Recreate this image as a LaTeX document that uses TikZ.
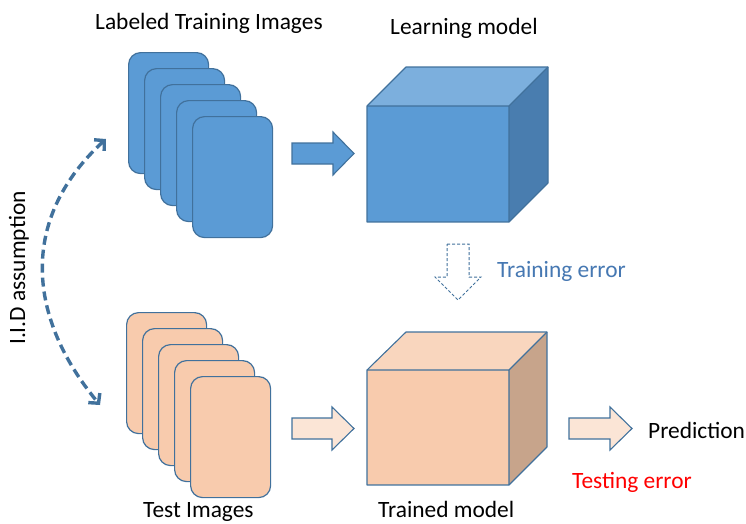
\documentclass[tikz,border=0pt]{standalone}
\usepackage{fontspec}
\setmainfont{Carlito}
\usetikzlibrary{arrows.meta}

\definecolor{edgeblue}{HTML}{41719C}
\definecolor{fillblue}{HTML}{5B9BD5}
\definecolor{topblue}{HTML}{7CAFDD}
\definecolor{sideblue}{HTML}{497DAF}
\definecolor{fillpeach}{HTML}{F8CBAD}
\definecolor{toppeach}{HTML}{F9D6BE}
\definecolor{sidepeach}{HTML}{C7A48B}
\definecolor{lightpeach}{HTML}{FBE5D6}
\definecolor{errblue}{HTML}{4678B2}

\tikzset{
  card/.style={draw=edgeblue, line width=1.2pt, rounded corners=12pt,
    minimum width=80pt, minimum height=121pt, inner sep=0pt, anchor=north west},
  label/.style={inner sep=0pt, anchor=base west, font=\fontsize{23.4}{28}\selectfont},
  blockarrow/.style={draw=edgeblue, line width=1.1pt, line join=miter},
  cubeedge/.style={draw=edgeblue, line width=1.1pt, line join=round},
  iid/.style={edgeblue, line width=3.4pt, dash pattern=on 9pt off 5pt,
    {Straight Barb[length=7pt,width=15pt]}-{Straight Barb[length=7pt,width=15pt]}}
}

\begin{document}
\begin{tikzpicture}[x=1pt,y=-1pt]
\useasboundingbox (0,0) rectangle (746,523);

% stacks of image cards
\foreach \i in {0,...,4}{
  \node[card, fill=fillblue] (tr\i) at ({128+16*\i},{52+16*\i}) {};
}
\foreach \i in {0,...,4}{
  \node[card, fill=fillpeach] (te\i) at ({126+16*\i},{312+16*\i}) {};
}

% learning model cube
\coordinate (lmA) at (367,106);
\coordinate (lmB) at (509,222);
\fill[topblue] (367,106) -- (406,67) -- (548,67) -- (509,106) -- cycle;
\fill[sideblue] (509,106) -- (548,67) -- (548,183) -- (509,222) -- cycle;
\fill[fillblue] (lmA) rectangle (lmB);
\draw[cubeedge] (367,106) -- (406,67) -- (548,67) -- (548,183) -- (509,222) -- (367,222) -- cycle;
\draw[cubeedge] (367,106) -- (509,106) -- (548,67) (509,106) -- (509,222);

% trained model cube
\coordinate (tmA) at (367,370);
\coordinate (tmB) at (509,485);
\fill[toppeach] (367,370) -- (406,332) -- (547,332) -- (509,370) -- cycle;
\fill[sidepeach] (509,370) -- (547,332) -- (547,447) -- (509,485) -- cycle;
\fill[fillpeach] (tmA) rectangle (tmB);
\draw[cubeedge] (367,370) -- (406,332) -- (547,332) -- (547,447) -- (509,485) -- (367,485) -- cycle;
\draw[cubeedge] (367,370) -- (509,370) -- (547,332) (509,370) -- (509,485);

% block arrows
\draw[blockarrow, fill=fillblue]
  (292,143) -- (333,143) -- (333,132) -- (354,153.5) -- (333,175) -- (333,164) -- (292,164) -- cycle;
\draw[blockarrow, fill=lightpeach]
  (292,418) -- (332,418) -- (332,407) -- (354,428.5) -- (332,450) -- (332,439) -- (292,439) -- cycle;
\draw[blockarrow, fill=lightpeach]
  (569,418) -- (610,418) -- (610,407) -- (632,428.5) -- (610,450) -- (610,439) -- (569,439) -- cycle;
\draw[draw=edgeblue, line width=1pt, dash pattern=on 3pt off 2pt, fill=white]
  (447,244) -- (469,244) -- (469,277) -- (481,277) -- (458,300) -- (435,277) -- (447,277) -- cycle;

% I.I.D assumption link
\coordinate (iidTop) at (106,139);
\coordinate (iidBot) at (100,405);
\draw[iid] (iidTop) .. controls (23,215) and (23,312) .. (iidBot);

% labels
\node[label] (lblTrain) at (95,29) {Labeled Training Images};
\node[label] (lblLearn) at (390,34) {Learning model};
\node[label] (lblTest) at (143,517) {Test Images};
\node[label] (lblTrained) at (378,517) {Trained model};
\node[label] (lblPred) at (648,438) {Prediction};
\node[label, text=errblue] (lblTrErr) at (497,277) {Training error};
\node[label, text=red] (lblTeErr) at (572,488) {Testing error};
\node[inner sep=0pt, anchor=base, rotate=90, font=\fontsize{23.4}{28}\selectfont] (lblIID) at (25,268) {I.I.D assumption};
\end{tikzpicture}
\end{document}
